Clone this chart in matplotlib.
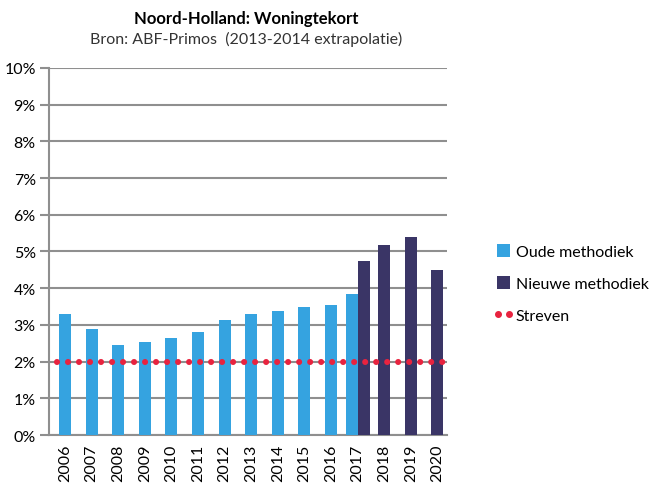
import matplotlib
matplotlib.use("Agg")
import matplotlib.pyplot as plt
from matplotlib.patches import Patch
from matplotlib.lines import Line2D
from matplotlib.legend_handler import HandlerLine2D
import numpy as np

plt.rcParams['font.family'] = ['Lato', 'DejaVu Sans']

years = ['2006', '2007', '2008', '2009', '2010', '2011', '2012', '2013',
         '2014', '2015', '2016', '2017', '2018', '2019', '2020']
oude = [3.30, 2.89, 2.45, 2.53, 2.64, 2.81, 3.13, 3.30, 3.38, 3.49, 3.54, 3.84,
        None, None, None]
nieuwe = [None, None, None, None, None, None, None, None, None, None, None, 4.74,
          5.18, 5.40, 4.50]
streven = 2.0
yticks = [0, 1, 2, 3, 4, 5, 6, 7, 8, 9, 10]

c_oud = '#35A3E0'
c_new = '#3A3566'
c_red = '#E8233F'
c_grid = '#8f8f8f'

fig = plt.figure(figsize=(6.56, 4.85), dpi=100)
ax = fig.add_axes([0.0747, 0.101, 0.6068, 0.757])

x = np.arange(len(years))
w = 0.45
both = [i for i in range(len(years)) if oude[i] is not None and nieuwe[i] is not None]
for i in range(len(years)):
    if oude[i] is not None:
        off = -w / 2 if i in both else 0
        ax.bar(x[i] + off, oude[i], width=w, color=c_oud, zorder=3)
    if nieuwe[i] is not None:
        off = w / 2 if i in both else 0
        ax.bar(x[i] + off, nieuwe[i], width=w, color=c_new, zorder=3)

ax.plot([-0.3, 14.2], [streven, streven], color=c_red, lw=4.4,
        linestyle=(0, (0.001, 1.8)), dash_capstyle='round', solid_capstyle='round', zorder=4)

ax.set_xlim(-0.6, 14.36)
ax.set_ylim(0, 10)
ax.set_yticks(yticks)
ax.set_yticklabels([f'{t}%' for t in yticks], fontsize=11.5)
ax.set_xticks(x)
ax.set_xticklabels(years, rotation=90, fontsize=11.5)
ax.tick_params(axis='x', length=0, pad=6)
ax.tick_params(axis='y', length=6.5, width=1.5, color=c_grid, pad=3)
ax.yaxis.grid(True, color=c_grid, lw=1.5, zorder=0)
for s in ['top', 'right']:
    ax.spines[s].set_visible(False)
for s in ['left', 'bottom']:
    ax.spines[s].set_color(c_grid)
    ax.spines[s].set_linewidth(1.5)
ax.set_axisbelow(True)

fig.text(0.375, 0.960, 'Noord-Holland: Woningtekort', ha='center', va='center',
         fontsize=12, fontweight='bold')
fig.text(0.375, 0.919, 'Bron: ABF-Primos  (2013-2014 extrapolatie)', ha='center',
         va='center', fontsize=11.5, color='#333333')

handles = [Patch(facecolor=c_oud, edgecolor='none'),
           Patch(facecolor=c_new, edgecolor='none'),
           Line2D([0], [0], color=c_red, marker='o', markersize=4, linestyle='none')]
fig.legend(handles, ['Oude methodiek', 'Nieuwe methodiek', 'Streven'],
           loc='upper left', bbox_to_anchor=(0.735, 0.524), frameon=False,
           fontsize=11.5, handlelength=0.85, handleheight=0.85, handletextpad=0.35,
           labelspacing=1.08, numpoints=2,
           handler_map={Line2D: HandlerLine2D(marker_pad=0.1, numpoints=2)})

fig.savefig('out.png', dpi=100)
